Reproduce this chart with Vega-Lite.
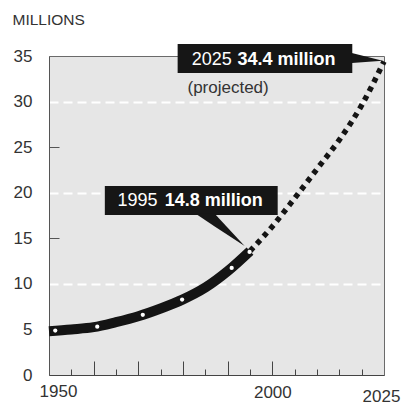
{
  "$schema": "https://vega.github.io/schema/vega-lite/v6.json",
  "width": 335,
  "height": 319,
  "autosize": {"type": "none"},
  "padding": {"left": 49, "top": 56, "right": 18, "bottom": 29},
  "background": "white",
  "config": {
    "view": {"fill": "#e6e6e6", "stroke": "#6a6a6a", "strokeWidth": 1},
    "font": "Liberation Sans"
  },
  "datasets": {
    "actual": [
      {"year": 1950, "millions": 4.8},
      {"year": 1955, "millions": 5.0},
      {"year": 1960, "millions": 5.25},
      {"year": 1965, "millions": 5.8},
      {"year": 1970, "millions": 6.45},
      {"year": 1975, "millions": 7.3},
      {"year": 1980, "millions": 8.3},
      {"year": 1985, "millions": 9.6},
      {"year": 1990, "millions": 11.4},
      {"year": 1995, "millions": 13.6}
    ],
    "projected": [
      {"year": 1995, "millions": 13.6},
      {"year": 2000, "millions": 16.3},
      {"year": 2005, "millions": 19.4},
      {"year": 2010, "millions": 22.6},
      {"year": 2015, "millions": 25.8},
      {"year": 2020, "millions": 29.6},
      {"year": 2025, "millions": 34.4}
    ],
    "dots": [
      {"year": 1951.4, "millions": 4.88},
      {"year": 1960.8, "millions": 5.3},
      {"year": 1971, "millions": 6.6},
      {"year": 1979.8, "millions": 8.27},
      {"year": 1990.9, "millions": 11.75},
      {"year": 1994.9, "millions": 13.5}
    ],
    "boxes": [
      {"id": "b2025", "x1": 1978.8, "x2": 2017.9, "y1": 36.32, "y2": 33.13},
      {"id": "b1995", "x1": 1962.5, "x2": 2001.2, "y1": 20.74, "y2": 17.56}
    ],
    "pointers": [
      {"id": "p2025", "x": 2017.8, "top": 35.33, "bottom": 34.23},
      {"id": "p2025", "x": 2024.7, "top": 34.49, "bottom": 34.49},
      {"id": "p1995", "x": 1983.1, "top": 17.7, "bottom": 17.6},
      {"id": "p1995", "x": 1987.1, "top": 17.7, "bottom": 16.28},
      {"id": "p1995", "x": 1993.8, "top": 14.15, "bottom": 14.15}
    ],
    "yearLabels": [
      {"x": 1990.9, "y": 34.0, "text": "2025"},
      {"x": 1974.3, "y": 18.54, "text": "1995"}
    ],
    "amountLabels": [
      {"x": 1992.2, "y": 34.0, "text": "34.4 million"},
      {"x": 1975.9, "y": 18.54, "text": "14.8 million"}
    ],
    "notes": [
      {"x": 1981.0, "y": 30.94, "text": "(projected)"}
    ]
  },
  "layer": [
    {
      "data": {"name": "actual"},
      "mark": {"type": "line", "interpolate": "monotone", "color": "#141414", "strokeWidth": 10, "strokeCap": "butt"},
      "encoding": {
        "x": {
          "field": "year", "type": "quantitative",
          "scale": {"domain": [1950, 2025], "nice": false, "zero": false},
          "axis": {
            "title": null,
            "values": [1950, 1955, 1960, 1965, 1970, 1975, 1980, 1985, 1990, 1995, 2000, 2005, 2010, 2015, 2020, 2025],
            "tickCount": 40,
            "format": "d",
            "labelExpr": "(datum.value == 1950 || datum.value == 2000 || datum.value == 2025) ? datum.label : ''",
            "labelFlush": false,
            "labelOverlap": false,
            "grid": false,
            "domainColor": "#444",
            "domainWidth": 1,
            "tickColor": "#444",
            "tickWidth": 1,
            "tickSize": {"condition": [{"test": "datum.value == 1950 || datum.value == 2025", "value": 0}, {"test": "datum.value % 10 == 0 && datum.value <= 2000", "value": -14}], "value": -6},
            "labelPadding": {"condition": [{"test": "datum.value == 2000", "value": 23}, {"test": "datum.value == 2025", "value": 13}], "value": 8},
            "labelOffset": {"condition": [{"test": "datum.value == 1950", "value": 9}, {"test": "datum.value == 2025", "value": -3}], "value": 0},
            "labelBaseline": "top",
            "labelFont": "Liberation Sans",
            "labelFontSize": 17,
            "labelColor": "#333"
          }
        },
        "y": {
          "field": "millions", "type": "quantitative",
          "scale": {"domain": [0, 35], "nice": false},
          "axis": {
            "title": "MILLIONS",
            "titleAngle": 0,
            "titleAlign": "left",
            "titleBaseline": "alphabetic",
            "titleX": -37,
            "titleY": -32,
            "titleFont": "Liberation Sans",
            "titleFontSize": 15.5,
            "titleFontWeight": "normal",
            "titleColor": "#333",
            "values": [0, 5, 10, 15, 20, 25, 30, 35],
            "tickCount": 40,
            "labelFlush": false,
            "labelOverlap": false,
            "grid": true,
            "gridColor": "#ffffff",
            "gridWidth": 2,
            "gridDash": [9, 5],
            "gridOpacity": {"condition": {"test": "datum.value == 10 || datum.value == 20 || datum.value == 30", "value": 1}, "value": 0},
            "tickSize": {"condition": {"test": "datum.value == 15 || datum.value == 25", "value": -10}, "value": 0},
            "labelPadding": {"condition": {"test": "datum.value == 15 || datum.value == 25", "value": 27}, "value": 17},
            "tickColor": "#555",
            "domainColor": "#555",
            "labelFont": "Liberation Sans",
            "labelFontSize": 17,
            "labelColor": "#333"
          }
        }
      }
    },
    {
      "data": {"name": "projected"},
      "mark": {"type": "line", "interpolate": "monotone", "color": "#141414", "strokeWidth": 5.5, "strokeDash": [5, 5], "strokeCap": "butt"},
      "encoding": {
        "x": {"field": "year", "type": "quantitative"},
        "y": {"field": "millions", "type": "quantitative"}
      }
    },
    {
      "data": {"name": "dots"},
      "mark": {"type": "point", "filled": true, "color": "#ffffff", "size": 18, "opacity": 1},
      "encoding": {
        "x": {"field": "year", "type": "quantitative"},
        "y": {"field": "millions", "type": "quantitative"}
      }
    },
    {
      "data": {"name": "boxes"},
      "mark": {"type": "rect", "color": "#161616"},
      "encoding": {
        "x": {"field": "x1", "type": "quantitative"},
        "x2": {"field": "x2"},
        "y": {"field": "y1", "type": "quantitative"},
        "y2": {"field": "y2"}
      }
    },
    {
      "data": {"name": "pointers"},
      "mark": {"type": "area", "color": "#161616", "orient": "vertical"},
      "encoding": {
        "x": {"field": "x", "type": "quantitative"},
        "y": {"field": "top", "type": "quantitative"},
        "y2": {"field": "bottom"},
        "detail": {"field": "id"}
      }
    },
    {
      "data": {"name": "yearLabels"},
      "mark": {"type": "text", "align": "right", "baseline": "alphabetic", "color": "#ffffff", "fontSize": 18, "font": "Liberation Sans"},
      "encoding": {
        "x": {"field": "x", "type": "quantitative"},
        "y": {"field": "y", "type": "quantitative"},
        "text": {"field": "text"}
      }
    },
    {
      "data": {"name": "amountLabels"},
      "mark": {"type": "text", "align": "left", "baseline": "alphabetic", "color": "#ffffff", "fontSize": 18, "fontWeight": "bold", "font": "Liberation Sans"},
      "encoding": {
        "x": {"field": "x", "type": "quantitative"},
        "y": {"field": "y", "type": "quantitative"},
        "text": {"field": "text"}
      }
    },
    {
      "data": {"name": "notes"},
      "mark": {"type": "text", "align": "left", "baseline": "alphabetic", "color": "#333333", "fontSize": 17, "font": "Liberation Sans"},
      "encoding": {
        "x": {"field": "x", "type": "quantitative"},
        "y": {"field": "y", "type": "quantitative"},
        "text": {"field": "text"}
      }
    }
  ]
}
